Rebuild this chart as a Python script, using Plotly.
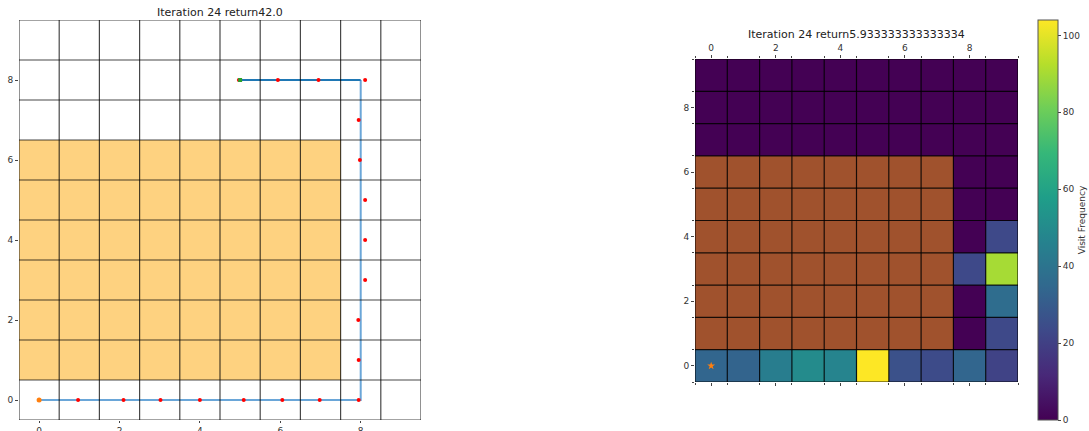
import plotly.graph_objects as go
import numpy as np

# ---------------- data ----------------
N = 10
grid_ticks = [0, 2, 4, 6, 8]
obstacle_x = [0, 1, 2, 3, 4, 5, 6, 7]
obstacle_y = [1, 2, 3, 4, 5, 6]

left_title = "Iteration 24 return42.0"
right_title = "Iteration 24 return5.933333333333334"

# planned path (corners)
path_light_x = [0, 8, 8]
path_light_y = [0, 0, 8]
path_dark_x = [8, 5]
path_dark_y = [8, 8]

# visited (jittered) positions
visit_x = [0.97, 2.10, 3.02, 4.00, 5.09, 6.05, 6.98, 7.95,
           7.95, 7.94, 8.11, 8.11, 8.11, 7.98, 7.95, 8.11,
           6.95, 5.94, 4.97]
visit_y = [0, 0, 0, 0, 0, 0, 0, 0,
           1, 2, 3, 4, 5, 6, 7, 8,
           8, 8, 8]
start_x, start_y = [0], [0]
goal_x, goal_y = [5], [8]

# visit frequency, rows y = 0..9, columns x = 0..9
visits = [
    [34, 33, 44, 50, 47, 104, 26, 24, 34, 21],
    [0, 0, 0, 0, 0, 0, 0, 0, 0, 23],
    [0, 0, 0, 0, 0, 0, 0, 0, 0, 37],
    [0, 0, 0, 0, 0, 0, 0, 0, 23, 90],
    [0, 0, 0, 0, 0, 0, 0, 0, 0, 23],
    [0, 0, 0, 0, 0, 0, 0, 0, 0, 0],
    [0, 0, 0, 0, 0, 0, 0, 0, 0, 0],
    [0, 0, 0, 0, 0, 0, 0, 0, 0, 0],
    [0, 0, 0, 0, 0, 0, 0, 0, 0, 0],
    [0, 0, 0, 0, 0, 0, 0, 0, 0, 0],
]
vmax = 104

# ---------------- build ----------------
W, H = 1089, 431
obst = np.full((N, N), np.nan)
for yy in obstacle_y:
    for xx in obstacle_x:
        obst[yy, xx] = 1.0

vis = np.array(visits, dtype=float)
vis_masked = vis.copy()
vis_masked[~np.isnan(obst)] = np.nan

cells = list(range(N))
fig = go.Figure()

# left: obstacles
fig.add_trace(go.Heatmap(z=obst, x=cells, y=cells, colorscale=[[0, "#fed280"], [1, "#fed280"]],
                         showscale=False, hoverinfo="skip", xaxis="x", yaxis="y"))
fig.add_trace(go.Scatter(x=path_light_x, y=path_light_y, mode="lines",
                         line=dict(color="#6aa6d8", width=2), showlegend=False, xaxis="x", yaxis="y"))
fig.add_trace(go.Scatter(x=path_dark_x, y=path_dark_y, mode="lines",
                         line=dict(color="#1f77b4", width=2), showlegend=False, xaxis="x", yaxis="y"))
fig.add_trace(go.Scatter(x=visit_x, y=visit_y, mode="markers",
                         marker=dict(color="red", size=4), showlegend=False, xaxis="x", yaxis="y"))
fig.add_trace(go.Scatter(x=start_x, y=start_y, mode="markers",
                         marker=dict(color="#ff7f0e", size=5), showlegend=False, xaxis="x", yaxis="y"))
fig.add_trace(go.Scatter(x=goal_x, y=goal_y, mode="markers",
                         marker=dict(color="#2ca02c", size=4, symbol="square"), showlegend=False, xaxis="x", yaxis="y"))

# right: visit heatmap
cb_len = 400 / H
fig.add_trace(go.Heatmap(z=vis_masked, x=cells, y=cells, colorscale="Viridis", zmin=0, zmax=vmax,
                         xaxis="x2", yaxis="y2",
                         colorbar=dict(x=1038 / W, xanchor="left", thickness=20, thicknessmode="pixels",
                                       len=cb_len, lenmode="fraction", y=(H - 220) / H, yanchor="middle",
                                       outlinewidth=1, outlinecolor="#555", xpad=0, ypad=0,
                                       tickvals=[0, 20, 40, 60, 80, 100], ticks="outside", ticklen=3,
                                       tickfont=dict(size=9, color="#333"),
                                       title=dict(text="Visit Frequency", side="right",
                                                  font=dict(size=9, color="#333")))))
fig.add_trace(go.Heatmap(z=obst, x=cells, y=cells, colorscale=[[0, "#a0522d"], [1, "#a0522d"]],
                         showscale=False, hoverinfo="skip", xaxis="x2", yaxis="y2"))
fig.add_trace(go.Scatter(x=start_x, y=start_y, mode="markers",
                         marker=dict(color="#ff7f0e", size=6, symbol="star"), showlegend=False,
                         xaxis="x2", yaxis="y2"))

# grid lines
shapes = []
bounds = [b - 0.5 for b in range(N + 1)]
for b in bounds:
    for xr, yr, col in (("x", "y", "rgba(0,0,0,0.72)"), ("x2", "y2", "rgba(0,0,0,0.85)")):
        shapes.append(dict(type="line", xref=xr, yref=yr, x0=b, x1=b, y0=bounds[0], y1=bounds[-1],
                           line=dict(color=col, width=1.2)))
        shapes.append(dict(type="line", xref=xr, yref=yr, y0=b, y1=b, x0=bounds[0], x1=bounds[-1],
                           line=dict(color=col, width=1.2)))

tickfont = dict(size=9, color="#333")
rng = [bounds[0], bounds[-1]]
fig.update_layout(
    width=W, height=H, margin=dict(l=0, r=0, t=0, b=0, autoexpand=False),
    paper_bgcolor="white", plot_bgcolor="white",
    showlegend=False, shapes=shapes,
    font=dict(family="DejaVu Sans"),
    xaxis=dict(domain=[19 / W, 421 / W], range=rng, tickvals=grid_ticks, ticks="outside", ticklen=2,
               showgrid=False, zeroline=False, tickfont=tickfont, anchor="y", automargin=False),
    yaxis=dict(domain=[(H - 420) / H, (H - 20) / H], range=rng, tickvals=grid_ticks, ticks="outside",
               ticklen=3, showgrid=False, zeroline=False, tickfont=tickfont, anchor="x", automargin=False),
    xaxis2=dict(domain=[695 / W, 1018 / W], range=rng, tickvals=grid_ticks, ticks="outside", ticklen=3,
                side="top", mirror="ticks", showgrid=False, zeroline=False, tickfont=tickfont,
                minor=dict(tick0=-0.5, dtick=1, ticks="outside", ticklen=2, showgrid=False),
                anchor="y2", automargin=False),
    yaxis2=dict(domain=[(H - 382) / H, (H - 59) / H], range=rng, tickvals=grid_ticks, ticks="outside",
                ticklen=3, showgrid=False, zeroline=False, tickfont=tickfont,
                minor=dict(tick0=-0.5, dtick=1, ticks="outside", ticklen=2, showgrid=False),
                anchor="x2", automargin=False),
    annotations=[
        dict(text=left_title, xref="paper", yref="paper", x=220 / W, y=(H - 12) / H,
             showarrow=False, font=dict(size=11, color="#222"), xanchor="center", yanchor="middle"),
        dict(text=right_title, xref="paper", yref="paper", x=856 / W, y=(H - 35) / H,
             showarrow=False, font=dict(size=11, color="#222"), xanchor="center", yanchor="middle"),
    ],
)

fig.write_html("out.html", config={"displayModeBar": False},
               post_script="document.body.style.margin='0px';document.body.style.overflow='hidden';")
